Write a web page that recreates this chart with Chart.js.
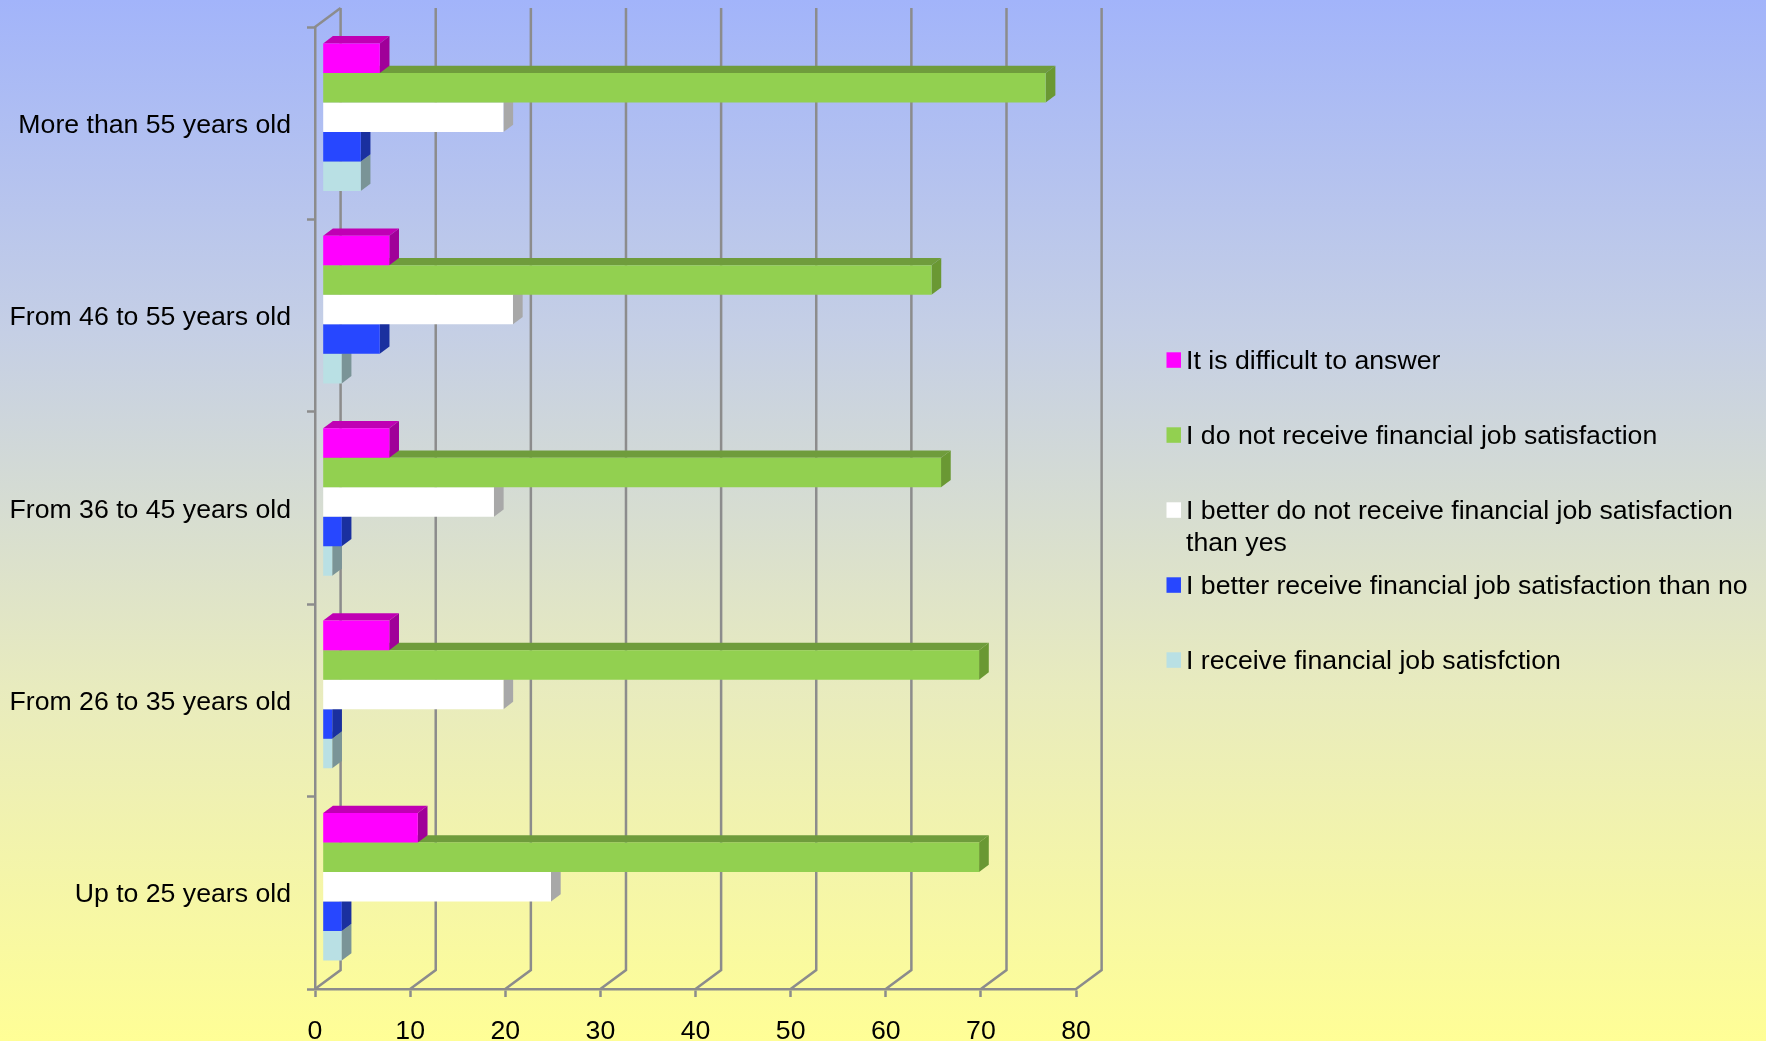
<!DOCTYPE html>
<html>
<head>
<meta charset="utf-8">
<title>Financial job satisfaction by age</title>
<script src="https://cdn.jsdelivr.net/npm/chart.js@4"></script>
<style>
	html, body { margin:0; padding:0; overflow:hidden; }
	body { width:1766px; height:1041px; background:linear-gradient(#A2B4FA 0%, #C5CFE5 32%, #E8EBBE 66%, #FFFE96 100%); }
	canvas { display:block; }
</style>
</head>
<body>
<canvas id="grafico" width="1766" height="1041"></canvas>
<script>
//	Categories, top to bottom
var Categorias=['More than 55 years old','From 46 to 55 years old','From 36 to 45 years old','From 26 to 35 years old','Up to 25 years old'];

//	Series
var Dificil=[6,7,7,7,10];
var NoRecibe=[76,64,65,69,69];
var MejorNo=[19,20,18,19,24];
var MejorSi=[4,6,2,1,2];
var Recibe=[4,2,1,1,2];

var EtiquetasSeries=[
	['It is difficult to answer',''],
	['I do not receive financial job satisfaction',''],
	['I better do not receive financial job satisfaction','than yes'],
	['I better receive financial job satisfaction than no',''],
	['I receive financial job satisfction','']
];

//	Colours: front, side and top face of each series
var ColorFrente=['#FF00FF','#92D050','#FFFFFF','#2747FF','#B9E0E4'];
var ColorLado=['#A00099','#6A9833','#A8A8A8','#1A309F','#7A9497'];
var ColorArriba=['#C000B4','#6F9C3C','#C8C8C8','#1F38B8','#8FB0B4'];

var COLOR_EJE='#8C8C8C';
var FUENTE='"Liberation Sans", Arial, sans-serif';
var TAM_FUENTE=26.67;

//	Depth of the chart box, and of the bars inside it
var FONDO_X=25.6, FONDO_Y=19;
var BARRA_X=9.7, BARRA_Y=7.3;
var DESPL_X=7.7, DESPL_Y=-6;

var LEYENDA_PADDING=11.5, LEYENDA_LINEA=31.75;


//	Draws a closed polygon
function Poligono(ctx, Puntos, Color)
{
	ctx.fillStyle=Color;
	ctx.beginPath();
	ctx.moveTo(Puntos[0][0],Puntos[0][1]);
	for (var i=1;i<Puntos.length;++i)
		ctx.lineTo(Puntos[i][0],Puntos[i][1]);
	ctx.closePath();
	ctx.fill();
}


//	Fake 3D: back wall, floor, side and top faces of the bars
var Plugin3D={
	id:'plugin3d',

	//	The legend sits apart from the chart, out of the normal layout
	afterLayout:function(chart)
	{
		chart.legend.left=1161.2;
		chart.legend.top=337.2;
		chart.legend.right=1766;
		chart.legend.bottom=1041;
		chart.legend.width=604.8;
	},

	beforeDatasetsDraw:function(chart)
	{
		var ctx=chart.ctx, x=chart.scales.x, area=chart.chartArea;

		ctx.save();
		ctx.strokeStyle=COLOR_EJE;
		ctx.lineWidth=2.5;
		x.ticks.forEach(function(t){
			var px=x.getPixelForValue(t.value);
			ctx.beginPath();
			ctx.moveTo(px,area.bottom);
			ctx.lineTo(px+FONDO_X,area.bottom-FONDO_Y);
			ctx.lineTo(px+FONDO_X,area.top-FONDO_Y);
			ctx.stroke();
		});
		ctx.beginPath();
		ctx.moveTo(area.left,area.top);
		ctx.lineTo(area.left+FONDO_X,area.top-FONDO_Y);
		ctx.stroke();
		ctx.restore();

		//	Bars stand in the middle of the box depth
		ctx.save();
		ctx.translate(DESPL_X,DESPL_Y);
	},

	beforeDatasetDraw:function(chart, args)
	{
		var ctx=chart.ctx;

		args.meta.data.forEach(function(b){
			var Arriba=b.y-b.height/2, Abajo=b.y+b.height/2;
			Poligono(ctx,[[b.base,Arriba],[b.base+BARRA_X,Arriba-BARRA_Y],[b.x+BARRA_X,Arriba-BARRA_Y],[b.x,Arriba]],ColorArriba[args.index]);
			Poligono(ctx,[[b.x,Arriba],[b.x+BARRA_X,Arriba-BARRA_Y],[b.x+BARRA_X,Abajo-BARRA_Y],[b.x,Abajo]],ColorLado[args.index]);
		});
	},

	afterDatasetsDraw:function(chart)
	{
		chart.ctx.restore();
	},

	//	Legend swatches sit closer to the text than the library allows
	afterDraw:function(chart)
	{
		var ctx=chart.ctx, lg=chart.legend;

		for (var i=0;i<ColorFrente.length;++i)
		{
			var y=lg.top+LEYENDA_PADDING+i*(2*LEYENDA_LINEA+LEYENDA_PADDING);
			ctx.fillStyle=ColorFrente[i];
			ctx.fillRect(lg.left+LEYENDA_PADDING-6.2,y+3.6,14.5,15.5);
		}
	}
};


function Inicio()
{
	var Series=[Dificil,NoRecibe,MejorNo,MejorSi,Recibe];
	var Datasets=[];

	for (var i=0;i<Series.length;++i)
	{
		Datasets.push({
			label:EtiquetasSeries[i],
			data:Series[i],
			backgroundColor:ColorFrente[i],
			borderWidth:0,
			categoryPercentage:0.767,
			barPercentage:1
		});
	}

	new Chart(document.getElementById('grafico').getContext('2d'),{
		type:'bar',
		data:{labels:Categorias,datasets:Datasets},
		plugins:[Plugin3D],
		options:{
			indexAxis:'y',
			responsive:false,
			animation:false,
			layout:{padding:{top:27,right:331.3,left:0,bottom:0}},
			plugins:{
				tooltip:{enabled:false},
				legend:{
					position:'right',
					align:'start',
					labels:{
						boxWidth:0,
						boxHeight:0,
						padding:LEYENDA_PADDING,
						color:'#000000',
						font:{family:FUENTE,size:TAM_FUENTE,lineHeight:LEYENDA_LINEA/TAM_FUENTE},
						generateLabels:function(chart){
							return chart.data.datasets.map(function(ds,i){
								return {text:ds.label,fillStyle:'rgba(0,0,0,0)',strokeStyle:'rgba(0,0,0,0)',lineWidth:0,datasetIndex:i};
							});
						}
					}
				}
			},
			scales:{
				x:{
					min:0,
					max:80,
					afterFit:function(scale){ scale.height=52; },
					ticks:{stepSize:10,color:'#000000',padding:19,maxRotation:0,font:{family:FUENTE,size:TAM_FUENTE}},
					border:{color:COLOR_EJE,width:2.5},
					grid:{drawOnChartArea:false,drawTicks:true,tickLength:8,tickWidth:2.5,tickColor:COLOR_EJE}
				},
				y:{
					afterFit:function(scale){ scale.width=315; scale.paddingTop=0; scale.paddingBottom=0; },
					ticks:{color:'#000000',padding:16,labelOffset:2.2,font:{family:FUENTE,size:TAM_FUENTE}},
					border:{color:COLOR_EJE,width:2.5},
					grid:{drawOnChartArea:false,drawTicks:true,tickLength:8,tickWidth:2.5,tickColor:COLOR_EJE}
				}
			}
		}
	});
}

Inicio();
</script>
</body>
</html>
